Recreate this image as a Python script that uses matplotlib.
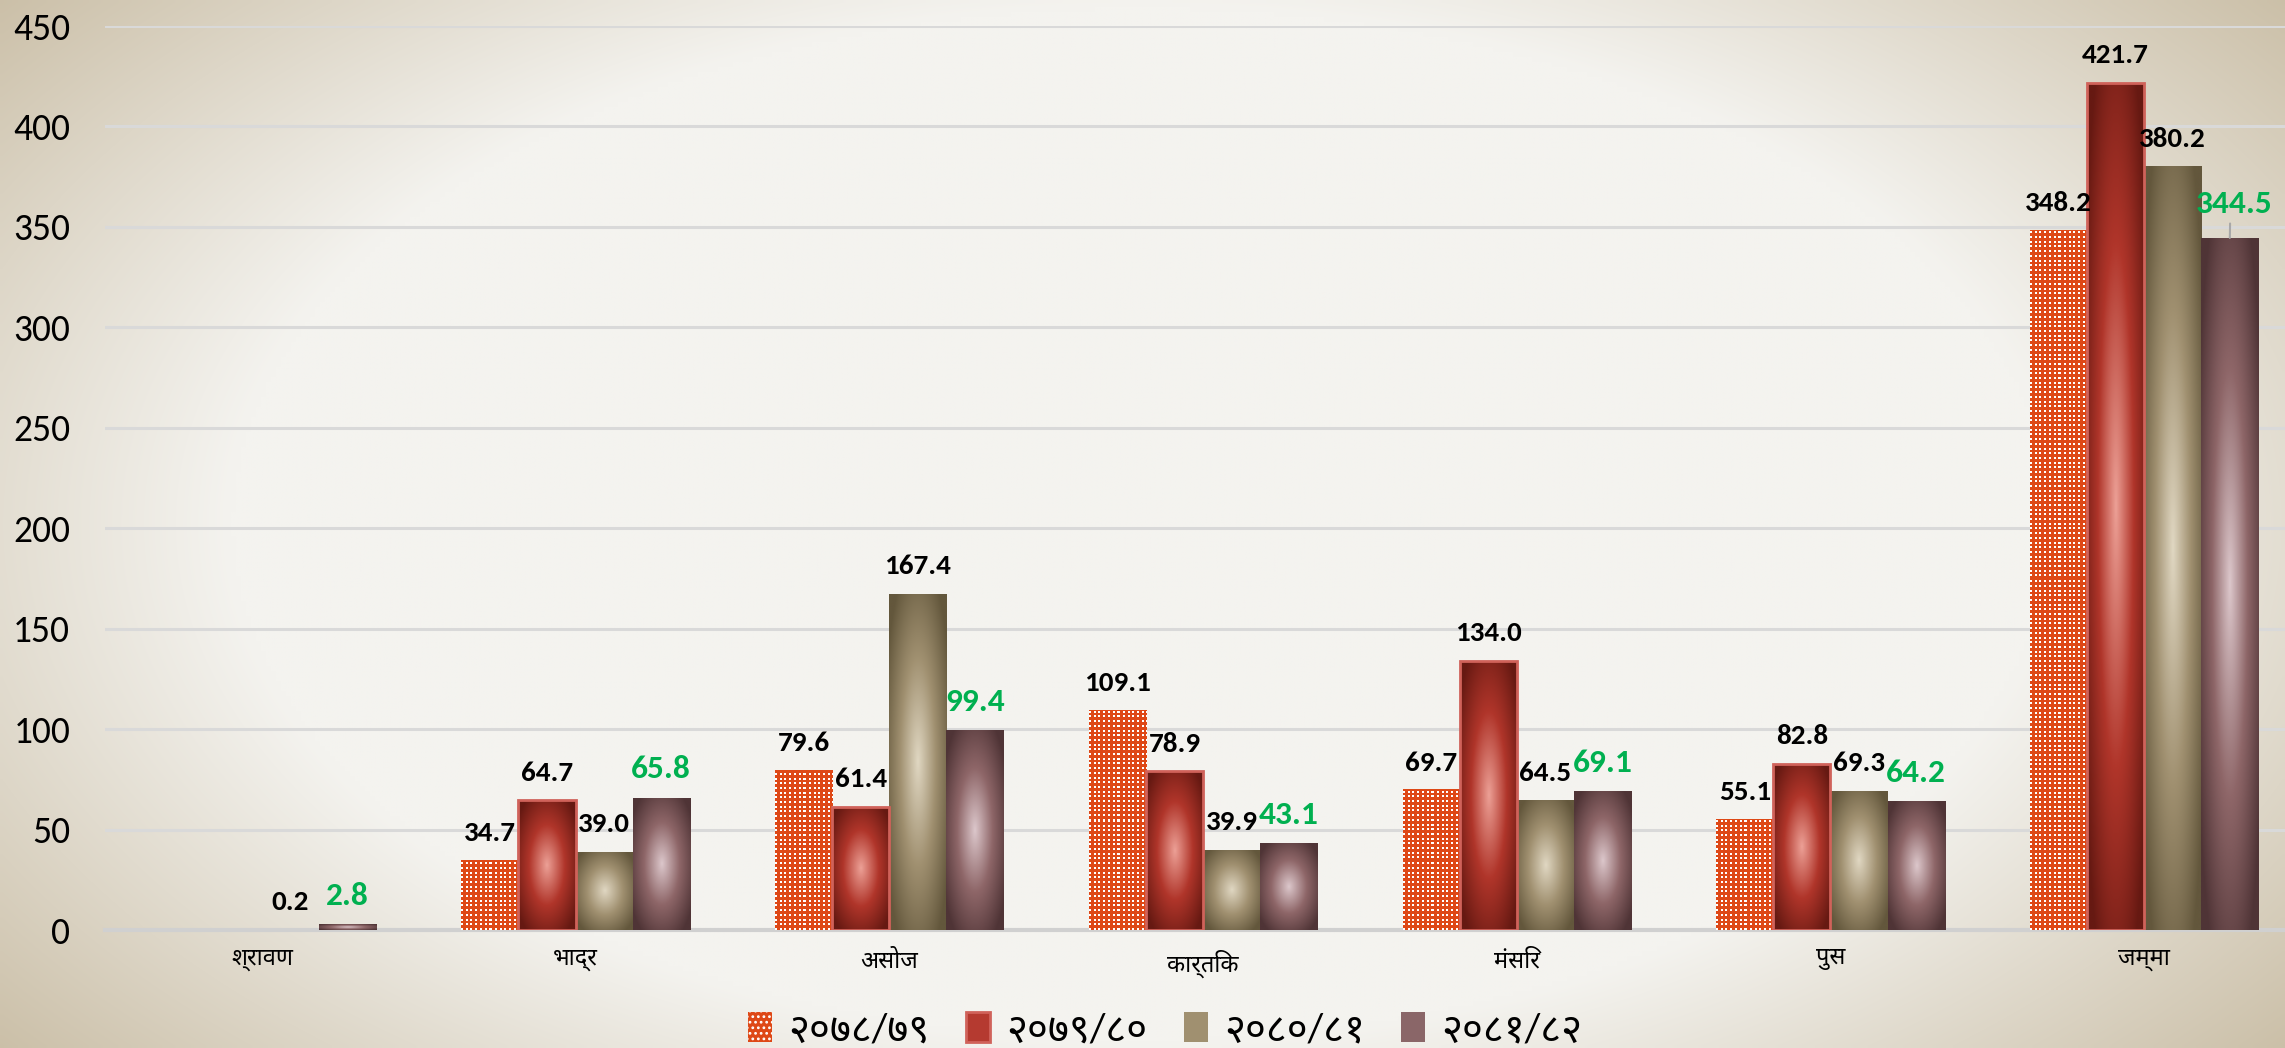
import numpy as np
import matplotlib
matplotlib.use('Agg')
import matplotlib.pyplot as plt
from matplotlib.colors import LinearSegmentedColormap, to_rgb
from matplotlib.patches import Patch

plt.rcParams['font.family'] = ['Carlito', 'Noto Sans', 'DejaVu Sans']

# महिना र आर्थिक वर्षअनुसारको रकम
mahina = ['श्रावण', 'भाद्र', 'असोज', 'कार्तिक', 'मंसिर', 'पुस', 'जम्मा']
barsha = ['२०७८/७९', '२०७९/८०', '२०८०/८१', '२०८१/८२']
v_7879 = [np.nan, 34.7, 79.6, 109.1, 69.7, 55.1, 348.2]
v_7980 = [np.nan, 64.7, 61.4, 78.9, 134.0, 82.8, 421.7]
v_8081 = [0.2, 39.0, 167.4, 39.9, 64.5, 69.3, 380.2]
v_8182 = [2.8, 65.8, 99.4, 43.1, 69.1, 64.2, 344.5]
yticks = [0, 50, 100, 150, 200, 250, 300, 350, 400, 450]

series = [v_7879, v_7980, v_8081, v_8182]
# gradient stops (centre, middle, edge) for the shaded series
grad = {
    1: ['#eca096', '#b0352a', '#661912'],
    2: ['#e0d7c2', '#a09070', '#63573c'],
    3: ['#dcc7cb', '#8e6668', '#4f3436'],
}
orange = '#de4816'
legend_col = [orange, '#b53a30', '#a09070', '#8a6668']

fig = plt.figure(figsize=(22.85, 10.48), dpi=100)

# background with a soft beige vignette
bg = fig.add_axes([0, 0, 1, 1], zorder=-5)
gx, gy = np.meshgrid(np.linspace(0, 1, 460), np.linspace(0, 1, 210))
d = np.sqrt(((gx - 0.5) / 0.5) ** 2 + ((gy - 0.5) / 0.62) ** 2)
t = np.clip((d - 0.8) / 0.55, 0, 1)
c0, c1 = np.array(to_rgb('#f4f3ef')), np.array(to_rgb('#c6b99f'))
bg.imshow(c0 + (c1 - c0) * t[..., None], extent=[0, 1, 0, 1], aspect='auto', interpolation='bilinear')
bg.axis('off')

ax = fig.add_axes([105 / 2285, 1 - 930 / 1048, 1 - 105 / 2285, (930 - 26) / 1048])
ax.patch.set_alpha(0)
ax.set_xlim(-0.5, (2285 - 262) / 313.7)
ax.set_ylim(0, 450)

x = np.arange(len(mahina))
w = 0.182

# radial shading used inside each bar
yy, xx = np.mgrid[-1:1:120j, -1:1:60j]
rr = np.clip(np.sqrt(xx ** 2 + yy ** 2) / 1.25, 0, 1)


def dot_texture(nx, ny, pitch=4.7, dot=2.0):
    cx = ((np.arange(nx) + 0.5) % pitch) < dot
    cy = ((np.arange(ny) + 0.5) % pitch) < dot
    m = cy[:, None] & cx[None, :]
    img = np.empty((ny, nx, 3))
    img[:] = to_rgb(orange)
    img[m] = 1.0
    return img


for i, vals in enumerate(series):
    pos = x + (i - 1.5) * w
    bars = ax.bar(pos, vals, w, color=orange if i == 0 else grad[i][1], linewidth=0, zorder=3)
    for b in bars:
        h = b.get_height()
        if not np.isfinite(h) or h <= 0:
            continue
        bx, by, bw = b.get_x(), b.get_y(), b.get_width()
        if i == 0:
            p0 = ax.transData.transform((bx, by))
            p1 = ax.transData.transform((bx + bw, by + h))
            nx, ny = max(int(round(p1[0] - p0[0])), 1), max(int(round(p1[1] - p0[1])), 1)
            ax.imshow(dot_texture(nx, ny), extent=[bx, bx + bw, by, by + h], origin='lower',
                      aspect='auto', interpolation='nearest', zorder=4)
        else:
            cmap = LinearSegmentedColormap.from_list('g%d' % i, grad[i])
            im = ax.imshow(rr, cmap=cmap, vmin=0, vmax=1, extent=[bx, bx + bw, by, by + h],
                           aspect='auto', interpolation='bilinear', zorder=4)
            im.set_clip_path(b)
            if i == 1:
                ax.bar(bx + bw / 2, h, bw, fill=False, edgecolor='#d0625a', linewidth=2, zorder=5)
    for xi, v in zip(pos, vals):
        if not np.isfinite(v):
            continue
        if i == 3:
            if v > 300:
                ax.annotate('%.1f' % v, (xi, v), xytext=(3, 18), textcoords='offset points',
                            ha='center', va='baseline', fontsize=24, fontweight='bold',
                            color='#00b050', zorder=6,
                            arrowprops=dict(arrowstyle='-', color='#a8a8a8', lw=1.5,
                                            shrinkA=2, shrinkB=0, relpos=(0.45, 0)))
            else:
                ax.annotate('%.1f' % v, (xi, v), xytext=(0, 14), textcoords='offset points',
                            ha='center', va='baseline', fontsize=24, fontweight='bold',
                            color='#00b050', zorder=6)
        else:
            ax.annotate('%.1f' % v, (xi, v), xytext=(0, 14), textcoords='offset points',
                        ha='center', va='baseline', fontsize=21, fontweight='bold',
                        color='black', zorder=6)

ax.set_xlim(-0.5, (2285 - 262) / 313.7)
ax.set_ylim(0, 450)
ax.set_yticks(yticks)
ax.set_xticks(x)
ax.set_xticklabels(mahina, fontsize=17)
ax.tick_params(axis='y', length=0, labelsize=27, pad=25)
ax.tick_params(axis='x', length=0, pad=14)
ax.grid(axis='y', color='#d9d9d9', linewidth=2.2, zorder=0)
ax.set_axisbelow(True)
for s in ['top', 'right', 'left']:
    ax.spines[s].set_visible(False)
ax.spines['bottom'].set_color('#d0d0d0')
ax.spines['bottom'].set_linewidth(3)

plt.rcParams['hatch.linewidth'] = 1.2
handles = [Patch(facecolor=legend_col[0], edgecolor='white', hatch='...', linewidth=0),
           Patch(facecolor=legend_col[1], edgecolor='#d0625a', linewidth=2),
           Patch(facecolor=legend_col[2], edgecolor='none'),
           Patch(facecolor=legend_col[3], edgecolor='none')]
fig.legend(handles, barsha, loc='center', bbox_to_anchor=(0.51, 0.017), ncol=4, frameon=False,
           fontsize=29, handlelength=0.6, handleheight=0.75, handletextpad=0.4,
           columnspacing=0.9)

fig.savefig('out.png', dpi=100)
